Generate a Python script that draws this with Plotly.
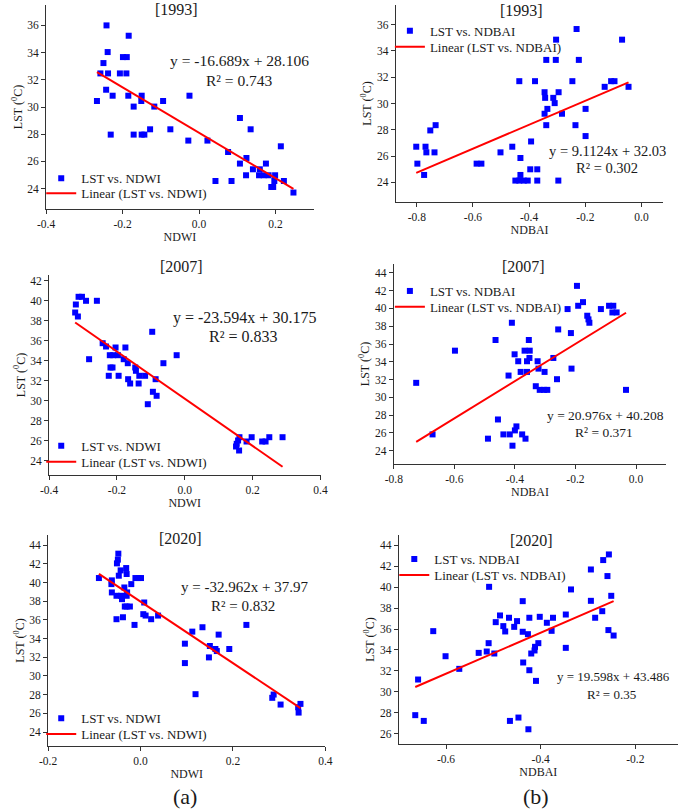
import plotly.graph_objects as go

W, H = 685, 810
SERIF = "Liberation Serif, Times New Roman, serif"
INK = "#1a1a1a"

# ---------------- data ----------------
year_titles = ["[1993]", "[2007]", "[2020]"]
panel_letters = ["(a)", "(b)"]

ndwi_1993 = [-0.242, -0.184, -0.239, -0.250, -0.258, -0.238, -0.207, -0.190, -0.199, -0.189,
             -0.243, -0.226, -0.185, -0.150, -0.267, -0.151, -0.094, -0.171, -0.117, -0.025,
             -0.231, -0.171, -0.150, -0.143, -0.128, -0.075, -0.028, 0.022, 0.076, 0.107,
             0.135, 0.107, 0.124, 0.123, 0.141, 0.159, 0.157, 0.175, 0.169, 0.182,
             0.199, 0.214, 0.189, 0.194, 0.197, 0.222, 0.043, 0.085, 0.247]
lst_ndwi_1993 = [36.00, 35.24, 34.04, 33.23, 32.47, 32.47, 32.47, 32.47, 33.67, 33.67,
                 31.27, 30.83, 30.83, 30.83, 30.44, 30.44, 30.44, 30.03, 30.03, 30.83,
                 27.97, 27.97, 27.97, 27.97, 28.36, 28.36, 27.53, 27.53, 26.69, 29.19,
                 28.36, 25.84, 26.25, 24.98, 25.42, 25.42, 24.98, 25.84, 24.98, 24.98,
                 24.98, 27.11, 24.12, 24.12, 24.56, 24.56, 24.56, 24.56, 23.71]

ndbai_1993 = [-0.802, -0.798, -0.774, -0.769, -0.766, -0.752, -0.733, -0.737, -0.587, -0.570,
              -0.502, -0.460, -0.435, -0.431, -0.431, -0.449, -0.435, -0.419, -0.405, -0.396,
              -0.393, -0.379, -0.371, -0.371, -0.345, -0.343, -0.339, -0.335, -0.345, -0.339,
              -0.304, -0.305, -0.314, -0.309, -0.295, -0.283, -0.296, -0.246, -0.231, -0.223,
              -0.235, -0.199, -0.199, -0.131, -0.108, -0.096, -0.069, -0.046]
lst_ndbai_1993 = [26.71, 25.42, 24.56, 26.71, 26.28, 27.95, 28.35, 26.28, 25.42, 25.42,
                  26.28, 26.71, 31.70, 25.85, 24.56, 24.13, 24.13, 24.13, 24.13, 24.99,
                  27.11, 31.70, 24.99, 24.13, 30.86, 30.43, 33.32, 29.59, 29.22, 28.35,
                  34.86, 33.32, 30.43, 30.03, 30.86, 29.22, 24.13, 31.70, 35.67, 33.32,
                  28.35, 29.59, 27.52, 31.27, 31.70, 31.70, 34.86, 31.27]

ndwi_2007 = [-0.321, -0.323, -0.315, -0.313, -0.303, -0.291, -0.259, -0.282, -0.242, -0.232,
             -0.204, -0.175, -0.221, -0.211, -0.197, -0.180, -0.168, -0.219, -0.213, -0.224,
             -0.195, -0.167, -0.161, -0.146, -0.144, -0.134, -0.117, -0.136, -0.109, -0.096,
             -0.094, -0.083, -0.086, -0.063, -0.024,
             0.161, 0.157, 0.153, 0.151, 0.160, 0.182, 0.197, 0.228, 0.238, 0.249, 0.288]
lst_ndwi_2007 = [39.60, 38.80, 38.40, 40.37, 40.37, 39.97, 39.97, 34.13, 35.73, 35.40,
                 35.30, 35.30, 34.53, 34.53, 34.53, 34.13, 33.73, 33.30, 33.30, 32.47,
                 32.47, 32.13, 31.70, 33.30, 32.97, 32.47, 32.47, 31.70, 29.63, 36.87,
                 30.87, 30.47, 32.13, 33.73, 34.53,
                 26.33, 26.00, 25.67, 25.40, 25.00, 25.90, 26.33, 25.90, 25.90, 26.33, 26.33]

ndbai_2007 = [-0.726, -0.672, -0.598, -0.489, -0.464, -0.456, -0.438, -0.421, -0.417, -0.410,
              -0.408, -0.401, -0.400, -0.395, -0.389, -0.381, -0.376, -0.365, -0.368, -0.360,
              -0.360, -0.354, -0.351, -0.352, -0.331, -0.325, -0.322, -0.318, -0.302, -0.304,
              -0.293, -0.273, -0.261, -0.257, -0.226, -0.215, -0.213, -0.195, -0.191, -0.175,
              -0.161, -0.157, -0.154, -0.116, -0.089, -0.075, -0.078, -0.064, -0.033]
lst_ndbai_2007 = [31.63, 25.83, 35.25, 25.35, 36.45, 27.51, 25.83, 32.45, 25.83, 38.39,
                  24.56, 34.84, 26.28, 26.73, 34.06, 32.86, 25.83, 25.35, 35.25, 32.86,
                  34.06, 36.45, 35.25, 34.43, 31.25, 34.06, 33.23, 30.84, 32.86, 30.84,
                  30.84, 34.43, 32.04, 37.64, 39.93, 37.23, 33.23, 42.54, 40.30, 40.71,
                  39.18, 38.77, 38.39, 39.93, 40.30, 40.30, 39.55, 39.55, 30.84]

ndwi_2020 = [-0.090, -0.063, -0.062, -0.062, -0.052, -0.052, -0.051, -0.048, -0.049, -0.047,
             -0.043, -0.042, -0.038, -0.040, -0.035, -0.034, -0.031, -0.030, -0.030, -0.029,
             -0.030, -0.023, -0.020, -0.013, -0.011, -0.004, 0.001, 0.008, 0.006, 0.011,
             0.023, 0.038, 0.096, 0.096, 0.112, 0.119, 0.134, 0.148, 0.150, 0.162,
             0.165, 0.169, 0.192, 0.229, 0.285, 0.288, 0.303, 0.341, 0.346, 0.342]
lst_ndwi_2020 = [40.49, 39.84, 40.24, 38.95, 38.59, 36.08, 42.06, 43.10, 42.46, 40.74,
                 41.31, 38.59, 36.29, 38.23, 39.48, 37.44, 41.56, 40.92, 38.59, 38.95,
                 37.44, 37.44, 39.84, 35.47, 40.49, 40.49, 40.49, 37.87, 36.62, 36.47,
                 36.08, 36.47, 33.46, 31.38, 34.75, 28.05, 35.22, 31.99, 33.21, 32.89,
                 32.67, 34.43, 32.89, 35.47, 27.66, 28.01, 26.94, 26.65, 27.01, 26.08]

ndbai_2020 = [-0.665, -0.659, -0.647, -0.627, -0.601, -0.572, -0.531, -0.514, -0.510, -0.509,
              -0.498, -0.495, -0.486, -0.479, -0.475, -0.467, -0.465, -0.456, -0.450, -0.447,
              -0.438, -0.438, -0.437, -0.427, -0.426, -0.424, -0.424, -0.420, -0.413, -0.412,
              -0.410, -0.405, -0.402, -0.387, -0.377, -0.374, -0.347, -0.347, -0.336, -0.294,
              -0.294, -0.285, -0.270, -0.268, -0.259, -0.256, -0.257, -0.251, -0.246]
lst_ndbai_2020 = [27.76, 31.17, 27.21, 35.80, 33.40, 32.19, 33.72, 33.85, 34.65, 40.04,
                  33.66, 36.66, 37.30, 36.28, 35.77, 37.08, 27.21, 36.21, 36.76, 27.53,
                  38.67, 35.74, 32.80, 35.51, 26.41, 37.08, 32.06, 33.66, 33.95, 34.30,
                  31.04, 34.65, 37.17, 36.60, 35.83, 37.08, 37.39, 34.20, 39.79, 41.70,
                  38.70, 37.08, 37.71, 42.60, 41.07, 43.14, 35.90, 39.18, 35.38]

# linear fits as printed on the chart
slopes = [-16.689, 9.1124, -23.594, 20.976, -32.962, 19.598]
intercepts = [28.106, 32.03, 30.175, 40.208, 37.97, 43.486]
eq_labels = ["y = -16.689x + 28.106", "y = 9.1124x + 32.03", "y = -23.594x + 30.175",
             "y = 20.976x + 40.208", "y = -32.962x + 37.97", "y = 19.598x + 43.486"]
r2_labels = ["R² = 0.743", "R² = 0.302", "R² = 0.833", "R² = 0.371", "R² = 0.832", "R² = 0.35"]

x_names = ["NDWI", "NDBAI", "NDWI", "NDBAI", "NDWI", "NDBAI"]
y_title = "LST (<sup>0</sup>C)"

xtick_vals = [[-0.4, -0.2, 0.0, 0.2], [-0.8, -0.6, -0.4, -0.2, 0.0],
              [-0.4, -0.2, 0.0, 0.2, 0.4], [-0.8, -0.6, -0.4, -0.2, 0.0],
              [-0.2, 0.0, 0.2, 0.4], [-0.6, -0.4, -0.2]]
xtick_text = [["-0.4", "-0.2", "0.0", "0.2"], ["-0.8", "-0.6", "-0.4", "-0.2", "0.0"],
              ["-0.4", "-0.2", "0.0", "0.2", "0.4"], ["-0.8", "-0.6", "-0.4", "-0.2", "0.0"],
              ["-0.2", "0.0", "0.2", "0.4"], ["-0.6", "-0.4", "-0.2"]]
ytick_vals = [list(range(24, 37, 2)), list(range(24, 37, 2)), list(range(24, 43, 2)),
              list(range(24, 45, 2)), list(range(24, 45, 2)), list(range(26, 45, 2))]

xs = [ndwi_1993, ndbai_1993, ndwi_2007, ndbai_2007, ndwi_2020, ndbai_2020]
ys = [lst_ndwi_1993, lst_ndbai_1993, lst_ndwi_2007, lst_ndbai_2007, lst_ndwi_2020, lst_ndbai_2020]

# ---------------- layout geometry (pixels) ----------------
dom_px = [(38, 312, 5, 209), (396, 670, 5, 202), (41, 319, 275, 475),
          (394, 673, 264, 464), (40, 324, 535, 746), (399, 685, 535, 744)]
x_ranges = [[-0.4, 0.3], [-0.875, 0.078], [-0.4, 0.4], [-0.8, 0.1], [-0.2, 0.4], [-0.7, -0.11]]
y_ranges = [[22.5, 37.5], [22.5, 37.5], [22.55, 42.55], [22.5, 45], [22.5, 45.1], [25, 45]]
# legend box left edge (px) and the two row centres (px)
legend_px = [(33, 178.3, 193.3), (390, 30.7, 46.7), (33, 445.7, 461.7),
             (390, 291, 306.7), (33, 718.3, 734), (394.5, 559, 575)]
eq_px = [((236.3, 61), (236, 80), 15.5), ((613.3, 150.7), (612.3, 167.7), 14.5),
         ((241, 317.7), (240, 336.7), 16), ((610.7, 415.7), (609.3, 432.3), 13.5),
         ((240.7, 587.3), (239.3, 606), 15), ((618.7, 676.7), (617, 694), 13)]
title_px = [(171.7, 9.3), (525, 10), (176.7, 266.7), (526.7, 266.7), (176, 538.3), (535, 540)]
letter_px = [(180, 796.7), (539.3, 796)]


def px_x(p):
    return p / W


def px_y(p):
    return 1 - p / H


fig = go.Figure()
layout = dict(width=W, height=H, margin=dict(l=0, r=0, t=0, b=0), showlegend=True,
              paper_bgcolor="white", plot_bgcolor="white",
              font=dict(family=SERIF, color=INK, size=12), annotations=[])

for i in range(6):
    n = i + 1
    xa = "x" if n == 1 else f"x{n}"
    ya = "y" if n == 1 else f"y{n}"
    leg_a = "legend" if 2 * i + 1 == 1 else f"legend{2 * i + 1}"
    leg_b = f"legend{2 * i + 2}"
    short = x_names[i]

    fig.add_trace(go.Scatter(
        x=xs[i], y=ys[i], mode="markers", xaxis=xa, yaxis=ya,
        name=f"LST vs. {short}", legend=leg_a, showlegend=True,
        marker=dict(symbol="square", size=6, color="#0000FF", line=dict(width=0)),
        cliponaxis=False))
    xmin, xmax = min(xs[i]), max(xs[i])
    fig.add_trace(go.Scatter(
        x=[xmin, xmax], y=[slopes[i] * xmin + intercepts[i], slopes[i] * xmax + intercepts[i]],
        mode="lines", xaxis=xa, yaxis=ya, name=f"Linear (LST vs. {short})", legend=leg_b,
        showlegend=True, line=dict(color="#FF0000", width=2), cliponaxis=False))

    x0, x1, yt, yb = dom_px[i]
    axis_common = dict(showgrid=False, zeroline=False, showline=True, linecolor="#333333",
                       linewidth=1, ticks="outside", ticklen=4, tickcolor="#333333",
                       tickfont=dict(family=SERIF, size=11.5, color=INK), mirror=False)
    layout[f"xaxis{'' if n == 1 else n}"] = dict(
        axis_common, domain=[px_x(x0), px_x(x1)], range=x_ranges[i], anchor=ya,
        tickvals=xtick_vals[i], ticktext=xtick_text[i],
        title=dict(text=short, standoff=3, font=dict(family=SERIF, size=12, color=INK)))
    layout[f"yaxis{'' if n == 1 else n}"] = dict(
        axis_common, domain=[px_y(yb), px_y(yt)], range=y_ranges[i], anchor=xa,
        tickvals=ytick_vals[i], ticktext=[str(v) for v in ytick_vals[i]],
        title=dict(text=y_title, standoff=2, font=dict(family=SERIF, size=12, color=INK)))

    lx, r1, r2 = legend_px[i]
    for lname, ry in ((leg_a, r1), (leg_b, r2)):
        layout[lname] = dict(x=px_x(lx), xanchor="left", y=px_y(ry), yanchor="middle",
                             bgcolor="rgba(0,0,0,0)", borderwidth=0, visible=True,
                             font=dict(family=SERIF, size=13, color=INK))

    (ex, ey), (rx, ry2), fs = eq_px[i]
    layout["annotations"].append(dict(text=eq_labels[i], x=px_x(ex), y=px_y(ey), xref="paper",
                                      yref="paper", showarrow=False, xanchor="center",
                                      yanchor="middle", font=dict(family=SERIF, size=fs, color=INK)))
    layout["annotations"].append(dict(text=r2_labels[i], x=px_x(rx), y=px_y(ry2), xref="paper",
                                      yref="paper", showarrow=False, xanchor="center",
                                      yanchor="middle", font=dict(family=SERIF, size=fs, color=INK)))
    tpx, tpy = title_px[i]
    layout["annotations"].append(dict(text=year_titles[i // 2], x=px_x(tpx), y=px_y(tpy),
                                      xref="paper", yref="paper", showarrow=False,
                                      xanchor="center", yanchor="middle",
                                      font=dict(family=SERIF, size=16, color=INK)))

for j, (lx, ly) in enumerate(letter_px):
    layout["annotations"].append(dict(text=panel_letters[j], x=px_x(lx), y=px_y(ly), xref="paper",
                                      yref="paper", showarrow=False, xanchor="center",
                                      yanchor="middle", font=dict(family=SERIF, size=22, color=INK)))

fig.update_layout(**layout)
fig.write_html("out.html", config={"displayModeBar": False},
               post_script="document.body.style.margin='0';document.body.style.overflow='hidden';")
